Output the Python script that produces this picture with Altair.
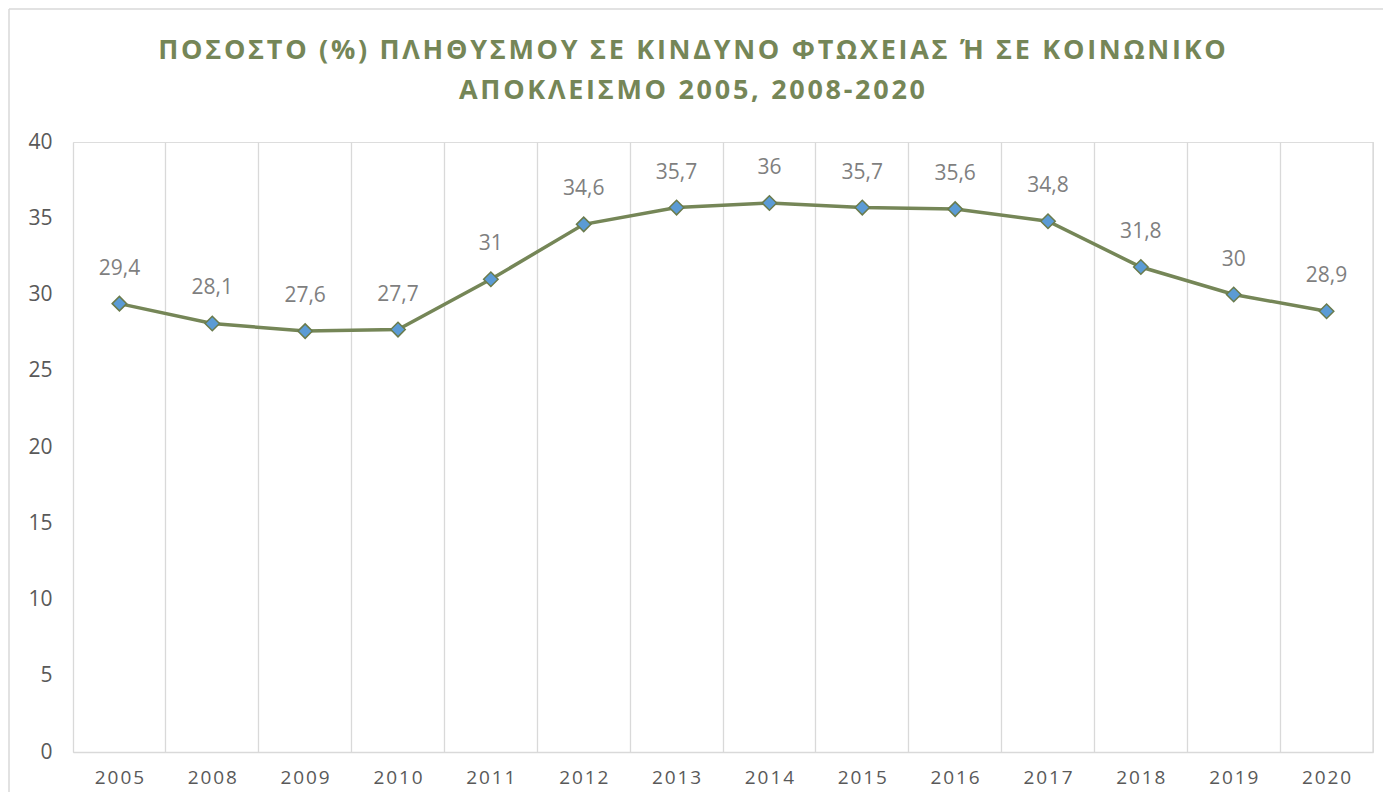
import altair as alt
import pandas as pd

years = ["2005", "2008", "2009", "2010", "2011", "2012", "2013", "2014",
         "2015", "2016", "2017", "2018", "2019", "2020"]
values = [29.4, 28.1, 27.6, 27.7, 31.0, 34.6, 35.7, 36.0, 35.7, 35.6, 34.8, 31.8, 30.0, 28.9]
y_ticks = [0, 5, 10, 15, 20, 25, 30, 35, 40]

title_lines = ["ΠΟΣΟΣΤΟ (%) ΠΛΗΘΥΣΜΟΥ ΣΕ ΚΙΝΔΥΝΟ ΦΤΩΧΕΙΑΣ Ή ΣΕ ΚΟΙΝΩΝΙΚΟ",
               "ΑΠΟΚΛΕΙΣΜΟ 2005, 2008-2020"]

HS = "\u200a"
spaced_title = [HS.join(list(t)) for t in title_lines]

df = pd.DataFrame({"year": years, "value": values})

OLIVE = "#758657"
GRID = "#D9D9D9"
TXT = "#595959"
LBL = "#7F7F7F"
FONT = "Open Sans"

x_enc = alt.X("year:O", sort=years,
              scale=alt.Scale(paddingInner=0, paddingOuter=0),
              axis=alt.Axis(title=None, labelAngle=0, grid=True, gridColor=GRID, gridWidth=1.3,
                            bandPosition=0, ticks=False, domainColor=GRID, domainWidth=1.5,
                            labelColor=TXT, labelFont=FONT, labelFontSize=19, labelPadding=16,
                            labelExpr="join(split(datum.label, ''), '\u200a')"))
y_enc = alt.Y("value:Q",
              scale=alt.Scale(domain=[0, 40], nice=False, zero=True),
              axis=alt.Axis(title=None, values=y_ticks, grid=False, ticks=False, domain=False,
                            labelColor=TXT, labelFont=FONT, labelFontSize=21, labelPadding=21))

base = alt.Chart(df)
one = base.transform_filter(alt.datum.year == years[0])

right_rule = base.transform_filter(alt.datum.year == years[-1]).mark_rule(
    color=GRID, strokeWidth=1.3).encode(
    x=alt.X("year:O", sort=years, bandPosition=1), y=alt.value(0), y2=alt.value(610))

line = base.mark_line(color=OLIVE, strokeWidth=3.5).encode(
    x=alt.X("year:O", sort=years, bandPosition=0.5), y=y_enc)

line_axes = base.mark_line(opacity=0).encode(x=x_enc, y=y_enc)

points = base.mark_point(shape="diamond", filled=True, size=210, fill="#5B9BD5",
                         stroke="#6A7B4C", strokeWidth=1.5, opacity=1).encode(
    x=alt.X("year:O", sort=years, bandPosition=0.5), y="value:Q")

labels = base.transform_calculate(
    lbl="replace(format(datum.value, ''), '.', ',')").mark_text(
    font=FONT, fontSize=21, color=LBL, baseline="middle", dy=-35).encode(
    x=alt.X("year:O", sort=years, bandPosition=0.5), y="value:Q", text="lbl:N")

title1 = one.mark_text(font=FONT, fontSize=27, fontWeight="bold", color=OLIVE,
                       align="center", baseline="alphabetic").encode(
    x=alt.value(619), y=alt.value(-83), text=alt.value(spaced_title[0]))
title2 = one.mark_text(font=FONT, fontSize=27, fontWeight="bold", color=OLIVE,
                       align="center", baseline="alphabetic").encode(
    x=alt.value(619), y=alt.value(-43), text=alt.value(spaced_title[1]))

border_left = one.mark_rule(color=GRID, strokeWidth=1.5).encode(
    x=alt.value(-64), y=alt.value(-133), y2=alt.value(700))
border_top = one.mark_rule(color=GRID, strokeWidth=1.5).encode(
    x=alt.value(-64), x2=alt.value(1400), y=alt.value(-133))

chart = alt.layer(line_axes, right_rule, line, points, labels, title1, title2,
                  border_left, border_top).properties(
    width=1300, height=610,
    autosize=alt.AutoSizeParams(type="none"),
    padding={"left": 65, "top": 134, "right": 10, "bottom": 40},
).configure_view(stroke=None).configure(background="white")

chart.save("out.html", embed_options={"renderer": "svg", "actions": False})
